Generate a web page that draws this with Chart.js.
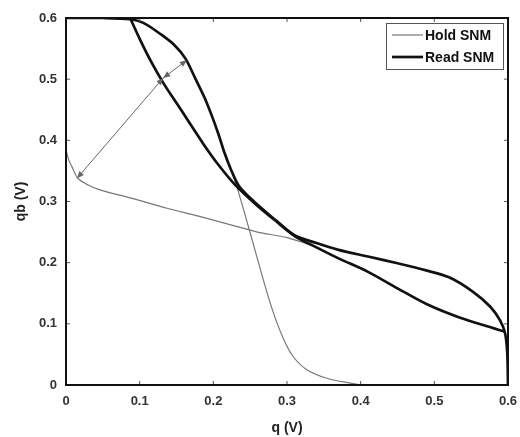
<!DOCTYPE html>
<html lang="en">
<head>
  <meta charset="UTF-8">
  <title>Hold and Read SNM</title>
  <script src="https://cdn.jsdelivr.net/npm/chart.js"></script>
  <style>
    body { margin: 0; padding: 0; background: #fff; }
    canvas { display: block; }
  </style>
</head>
<body>
  <canvas id="snmChart" width="520" height="437"></canvas>

  <script>
    // tick labels (V)
    const xTicks = [0, 0.1, 0.2, 0.3, 0.4, 0.5, 0.6];
    const yTicks = [0, 0.1, 0.2, 0.3, 0.4, 0.5, 0.6];

    // Hold SNM butterfly, steep branch (top part hidden under read curve)
    const holdAq  = [0, 0.05, 0.087, 0.105, 0.128, 0.147, 0.162, 0.176, 0.188, 0.198, 0.207, 0.215, 0.224, 0.232, 0.245, 0.259, 0.27, 0.281, 0.295, 0.308, 0.327, 0.354, 0.386, 0.4];
    const holdAqb = [0.6, 0.6, 0.598, 0.592, 0.574, 0.556, 0.534, 0.5, 0.47, 0.44, 0.41, 0.38, 0.352, 0.324, 0.27, 0.21, 0.163, 0.12, 0.076, 0.047, 0.025, 0.011, 0.003, 0];

    // Hold SNM butterfly, flat branch
    const holdBq  = [0, 0, 0.003, 0.008, 0.016, 0.03, 0.046, 0.09, 0.137, 0.18, 0.22, 0.26, 0.30, 0.34, 0.37, 0.41, 0.45, 0.49, 0.535, 0.58, 0.596];
    const holdBqb = [0.6, 0.39, 0.37, 0.357, 0.338, 0.327, 0.319, 0.305, 0.289, 0.276, 0.263, 0.25, 0.241, 0.225, 0.207, 0.185, 0.158, 0.132, 0.11, 0.093, 0.087];

    // Read SNM butterfly, first VTC (outer at top, lower on the right)
    const readAq  = [0, 0.05, 0.087, 0.105, 0.128, 0.147, 0.162, 0.176, 0.188, 0.198, 0.207, 0.215, 0.224, 0.235, 0.257, 0.284, 0.31, 0.34, 0.37, 0.41, 0.45, 0.49, 0.535, 0.58, 0.596];
    const readAqb = [0.6, 0.6, 0.598, 0.592, 0.574, 0.556, 0.534, 0.5, 0.47, 0.44, 0.41, 0.38, 0.352, 0.325, 0.298, 0.27, 0.244, 0.225, 0.207, 0.185, 0.158, 0.132, 0.11, 0.093, 0.087];

    // Read SNM butterfly, second VTC (inner at top, upper on the right)
    const readBq  = [0.087, 0.1, 0.115, 0.132, 0.15, 0.168, 0.186, 0.205, 0.229, 0.257, 0.284, 0.31, 0.34, 0.37, 0.41, 0.45, 0.49, 0.52, 0.553, 0.576, 0.589, 0.596, 0.599, 0.6];
    const readBqb = [0.6, 0.566, 0.53, 0.494, 0.461, 0.428, 0.395, 0.363, 0.328, 0.296, 0.269, 0.245, 0.232, 0.221, 0.21, 0.199, 0.187, 0.176, 0.152, 0.128, 0.106, 0.085, 0.052, 0];

    // SNM diagonal markers
    const bigArrowQ    = [0.015, 0.132];
    const bigArrowQb   = [0.338, 0.502];
    const smallArrowQ  = [0.132, 0.164];
    const smallArrowQb = [0.502, 0.531];

    const pts = (xs, ys) => xs.map((x, i) => ({ x: x, y: ys[i] }));

    const HOLD = '#777';
    const READ = '#111';

    // box frame + inward tick marks, like matlab
    const framePlugin = {
      id: 'frame',
      afterDatasetsDraw(chart) {
        const { ctx, chartArea: a, scales } = chart;
        ctx.save();
        ctx.strokeStyle = '#555';
        ctx.lineWidth = 1;
        ctx.beginPath();
        xTicks.forEach(v => {
          const px = scales.x.getPixelForValue(v);
          ctx.moveTo(px, a.bottom); ctx.lineTo(px, a.bottom - 4);
          ctx.moveTo(px, a.top); ctx.lineTo(px, a.top + 4);
        });
        yTicks.forEach(v => {
          const py = scales.y.getPixelForValue(v);
          ctx.moveTo(a.left, py); ctx.lineTo(a.left + 4, py);
          ctx.moveTo(a.right, py); ctx.lineTo(a.right - 4, py);
        });
        ctx.stroke();
        ctx.strokeStyle = '#111';
        ctx.lineWidth = 2;
        ctx.strokeRect(a.left, a.top, a.right - a.left, a.bottom - a.top);
        ctx.restore();
      }
    };

    // double arrow heads on the marker lines
    function head(ctx, from, to, len, wid) {
      const ang = Math.atan2(to.y - from.y, to.x - from.x);
      const c = Math.cos(ang), s = Math.sin(ang);
      ctx.beginPath();
      ctx.moveTo(to.x, to.y);
      ctx.lineTo(to.x - len * c + wid * s, to.y - len * s - wid * c);
      ctx.lineTo(to.x - len * c - wid * s, to.y - len * s + wid * c);
      ctx.closePath();
      ctx.fill();
    }
    const arrowPlugin = {
      id: 'arrows',
      afterDatasetsDraw(chart) {
        const ctx = chart.ctx;
        ctx.save();
        chart.data.datasets.forEach((ds, i) => {
          if (!ds.arrow) return;
          const d = chart.getDatasetMeta(i).data;
          const p0 = d[0], p1 = d[d.length - 1];
          ctx.fillStyle = ds.borderColor;
          head(ctx, p0, p1, 7, 3);
          head(ctx, p1, p0, 7, 3);
        });
        ctx.restore();
      }
    };

    // boxed legend in the top right corner
    const legendPlugin = {
      id: 'boxLegend',
      afterDraw(chart) {
        const { ctx, chartArea: a } = chart;
        const items = chart.data.datasets.filter(ds => ds.legendLabel);
        const w = 117, rowH = 22;
        const x0 = a.right - 5 - w, y0 = a.top + 5;
        ctx.save();
        ctx.fillStyle = '#fff';
        ctx.fillRect(x0, y0, w, items.length * rowH + 2);
        ctx.strokeStyle = '#555';
        ctx.lineWidth = 1;
        ctx.strokeRect(x0 + 0.5, y0 + 0.5, w, items.length * rowH + 2);
        ctx.font = 'bold 14px Arial, "Liberation Sans", sans-serif';
        ctx.textBaseline = 'middle';
        items.forEach((ds, i) => {
          const y = y0 + 12 + i * rowH;
          ctx.strokeStyle = ds.borderColor;
          ctx.lineWidth = ds.borderWidth;
          ctx.beginPath();
          ctx.moveTo(x0 + 6, y); ctx.lineTo(x0 + 37, y);
          ctx.stroke();
          ctx.fillStyle = '#111';
          ctx.fillText(ds.legendLabel, x0 + 39, y + 1);
        });
        ctx.restore();
      }
    };

    const tickFont = { family: 'Arial, "Liberation Sans", sans-serif', size: 13, weight: 'bold' };
    const titleFont = { family: 'Arial, "Liberation Sans", sans-serif', size: 14, weight: 'bold' };
    const fmt = v => (v === 0 ? '0' : v.toFixed(1));

    const ctx = document.getElementById('snmChart').getContext('2d');
    new Chart(ctx, {
      type: 'scatter',
      data: {
        datasets: [
          { legendLabel: 'Hold SNM', data: pts(holdAq, holdAqb), borderColor: HOLD, borderWidth: 1.2, tension: 0.3, order: 1 },
          { legendLabel: 'Read SNM', data: pts(readAq, readAqb), borderColor: READ, borderWidth: 2.7, tension: 0.3, order: 0 },
          { data: pts(readBq, readBqb), borderColor: READ, borderWidth: 2.7, tension: 0.3, order: 0 },
          { data: pts(holdBq, holdBqb), borderColor: HOLD, borderWidth: 1.2, tension: 0.3, order: 1 },
          { arrow: true, data: pts(bigArrowQ, bigArrowQb), borderColor: '#666', borderWidth: 1, order: 2 },
          { arrow: true, data: pts(smallArrowQ, smallArrowQb), borderColor: '#666', borderWidth: 1, order: 2 }
        ].map(ds => Object.assign({ showLine: true, pointRadius: 0, fill: false }, ds))
      },
      options: {
        responsive: false,
        animation: false,
        devicePixelRatio: 1,
        layout: { padding: { top: 18, right: 12, bottom: 0, left: 0 } },
        plugins: { legend: { display: false }, tooltip: { enabled: false } },
        scales: {
          x: {
            type: 'linear', min: 0, max: 0.6,
            afterBuildTicks: s => { s.ticks = xTicks.map(v => ({ value: v })); },
            afterFit: s => { s.height = 52; s.paddingLeft = 0; s.paddingRight = 0; },
            grid: { display: false, drawTicks: false },
            border: { display: false },
            ticks: { padding: 9, color: '#333', font: tickFont, callback: fmt, maxRotation: 0 },
            title: { display: true, text: 'q (V)', color: '#222', font: titleFont, padding: { top: 2, bottom: 0 } }
          },
          y: {
            type: 'linear', min: 0, max: 0.6,
            afterBuildTicks: s => { s.ticks = yTicks.map(v => ({ value: v })); },
            afterFit: s => { s.width = 66; },
            grid: { display: false, drawTicks: false },
            border: { display: false },
            ticks: { padding: 9, color: '#333', font: tickFont, callback: fmt },
            title: { display: true, text: 'qb (V)', color: '#222', font: titleFont, padding: { top: 13, bottom: 2 } }
          }
        }
      },
      plugins: [framePlugin, arrowPlugin, legendPlugin]
    });
  </script>
</body>
</html>
